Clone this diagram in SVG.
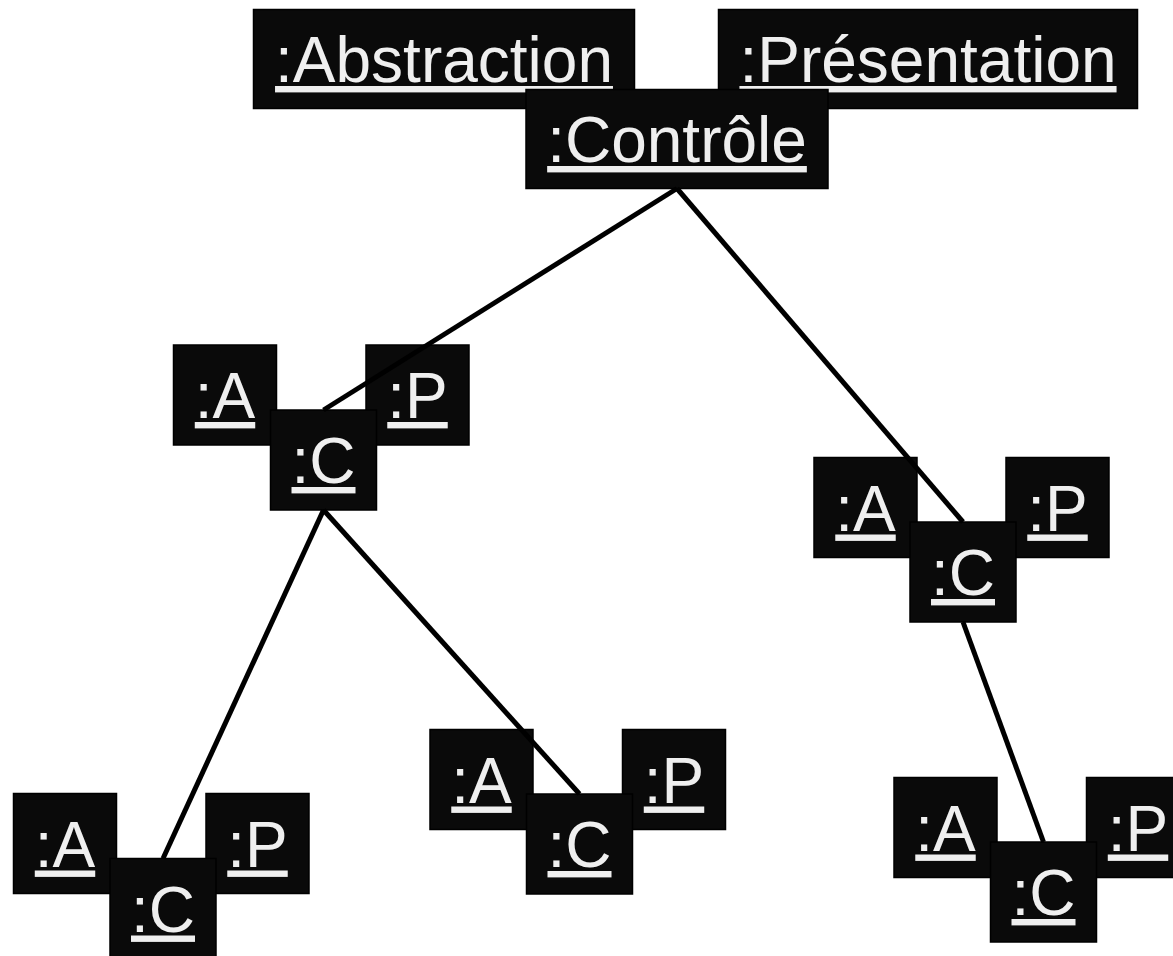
<svg xmlns="http://www.w3.org/2000/svg" width="1173" height="956" viewBox="0 0 1173 956">
<style>
.box{fill:#0a0a0a;stroke:#000;stroke-width:1.5}
.lbl{font-family:"Liberation Sans",Arial,sans-serif;font-size:64px;fill:#efefef;text-anchor:middle;text-decoration:underline}
.conn{stroke:#000;stroke-width:5;fill:none}
</style>
<rect width="1173" height="956" fill="#fff"/>
<g id="abstraction"><rect class="box" x="253.5" y="9.5" width="381" height="99"/><text class="lbl" x="444" y="82">:Abstraction</text></g>
<g id="presentation"><rect class="box" x="718.5" y="9.5" width="419" height="99"/><text class="lbl" x="928" y="82">:Présentation</text></g>
<g id="controle"><rect class="box" x="526" y="89.5" width="302" height="99"/><text class="lbl" x="677" y="162">:Contrôle</text></g>

<g id="g1-a"><rect class="box" x="173.5" y="345" width="103" height="100"/><text class="lbl" x="225" y="418">:A</text></g>
<g id="g1-p"><rect class="box" x="366" y="345" width="103" height="100"/><text class="lbl" x="417.5" y="418">:P</text></g>
<g id="g1-c"><rect class="box" x="270.5" y="410" width="106" height="100"/><text class="lbl" x="323.5" y="483">:C</text></g>

<g id="g2-a"><rect class="box" x="814" y="457.5" width="103" height="100"/><text class="lbl" x="865.5" y="530.5">:A</text></g>
<g id="g2-p"><rect class="box" x="1006" y="457.5" width="103" height="100"/><text class="lbl" x="1057.5" y="530.5">:P</text></g>
<g id="g2-c"><rect class="box" x="910" y="522" width="106" height="100"/><text class="lbl" x="963" y="595">:C</text></g>

<g id="g3-a"><rect class="box" x="13.5" y="793.5" width="103" height="100"/><text class="lbl" x="65" y="866.5">:A</text></g>
<g id="g3-p"><rect class="box" x="206" y="793.5" width="103" height="100"/><text class="lbl" x="257.5" y="866.5">:P</text></g>
<g id="g3-c"><rect class="box" x="110" y="858.5" width="106" height="100"/><text class="lbl" x="163" y="931.5">:C</text></g>

<g id="g4-a"><rect class="box" x="430" y="729.5" width="103" height="100"/><text class="lbl" x="481.5" y="802.5">:A</text></g>
<g id="g4-p"><rect class="box" x="622.5" y="729.5" width="103" height="100"/><text class="lbl" x="674" y="802.5">:P</text></g>
<g id="g4-c"><rect class="box" x="526.5" y="794" width="106" height="100"/><text class="lbl" x="579.5" y="867">:C</text></g>

<g id="g5-a"><rect class="box" x="894" y="777.5" width="103" height="100"/><text class="lbl" x="945.5" y="850.5">:A</text></g>
<g id="g5-p"><rect class="box" x="1086.5" y="777.5" width="103" height="100"/><text class="lbl" x="1138" y="850.5">:P</text></g>
<g id="g5-c"><rect class="box" x="990.5" y="842" width="106" height="100"/><text class="lbl" x="1043.5" y="915">:C</text></g>

<g id="connectors">
<line class="conn" x1="677" y1="188.5" x2="323.5" y2="410"/>
<line class="conn" x1="677" y1="188.5" x2="963" y2="522"/>
<line class="conn" x1="323.5" y1="510" x2="163" y2="858.5"/>
<line class="conn" x1="323.5" y1="510" x2="579.5" y2="794"/>
<line class="conn" x1="963" y1="622" x2="1043.5" y2="842"/>
</g>
</svg>
